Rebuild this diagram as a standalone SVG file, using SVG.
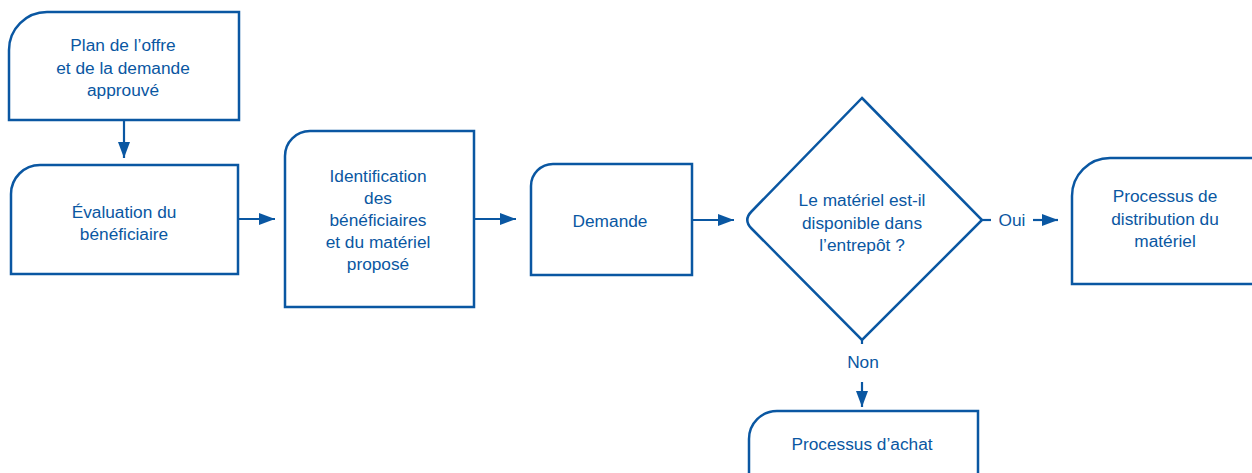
<svg xmlns="http://www.w3.org/2000/svg" width="1252" height="473" viewBox="0 0 1252 473">
<style>
.n{fill:#fff;stroke:#0a57a2;stroke-width:2.5}
.c{fill:none;stroke:#0a57a2;stroke-width:2.2}
text{font-family:"Liberation Sans",Arial,sans-serif;font-size:17.3px;fill:#0a57a2;text-anchor:middle}
</style>
<defs>
<marker id="ah" viewBox="0 0 16 12" refX="16" refY="6" markerWidth="16" markerHeight="12" markerUnits="userSpaceOnUse" orient="auto">
<path d="M0,0 L16,6 L0,12 Z" fill="#0a57a2"/>
</marker>
</defs>
<rect width="1252" height="473" fill="#fff"/>
<g id="n1"><path class="n" d="M9,50 A38,38 0 0 1 47,12 H239 V120 H9 Z"/>
<text x="123" y="51">Plan de l’offre</text><text x="123" y="74">et de la demande</text><text x="123" y="96">approuvé</text></g>
<g id="n2"><path class="n" d="M11,194 A29,29 0 0 1 40,165 H238 V274 H11 Z"/>
<text x="124" y="218">Évaluation du</text><text x="124" y="240">bénéficiaire</text></g>
<g id="n3"><path class="n" d="M285,156 A25,25 0 0 1 310,131 H474 V307 H285 Z"/>
<text x="378" y="182">Identification</text><text x="378" y="204">des</text><text x="378" y="226">bénéficiaires</text><text x="378" y="248">et du matériel</text><text x="378" y="270">proposé</text></g>
<g id="n4"><path class="n" d="M531,186 A22,22 0 0 1 553,164 H692 V275 H531 Z"/>
<text x="610" y="227">Demande</text></g>
<g id="n5"><path class="n" d="M862,98 L982,220 L862,340 L751.5,228.5 Q743,220 751.5,211.5 Z"/>
<text x="862" y="206">Le matériel est-il</text><text x="862" y="229">disponible dans</text><text x="862" y="251">l’entrepôt ?</text></g>
<g id="n6"><path class="n" d="M1072,196 A38,38 0 0 1 1110,158 H1256 V284 H1072 Z"/>
<text x="1165" y="202">Processus de</text><text x="1165" y="225">distribution du</text><text x="1165" y="247">matériel</text></g>
<g id="n7"><path class="n" d="M749,439 A28,28 0 0 1 777,411 H978 V480 H749 Z"/>
<text x="862" y="450">Processus d’achat</text></g>
<g id="connectors">
<line class="c" x1="124" y1="120" x2="124" y2="158" marker-end="url(#ah)"/>
<line class="c" x1="238" y1="219" x2="275" y2="219" marker-end="url(#ah)"/>
<line class="c" x1="474" y1="219" x2="516" y2="219" marker-end="url(#ah)"/>
<line class="c" x1="692" y1="220" x2="734" y2="220" marker-end="url(#ah)"/>
<line class="c" x1="982" y1="220" x2="991" y2="220"/>
<text x="1012" y="226">Oui</text>
<line class="c" x1="1033" y1="220" x2="1058" y2="220" marker-end="url(#ah)"/>
<line class="c" x1="862" y1="340" x2="862" y2="344"/>
<text x="863" y="368">Non</text>
<line class="c" x1="862" y1="382" x2="862" y2="407" marker-end="url(#ah)"/>
</g>
</svg>
